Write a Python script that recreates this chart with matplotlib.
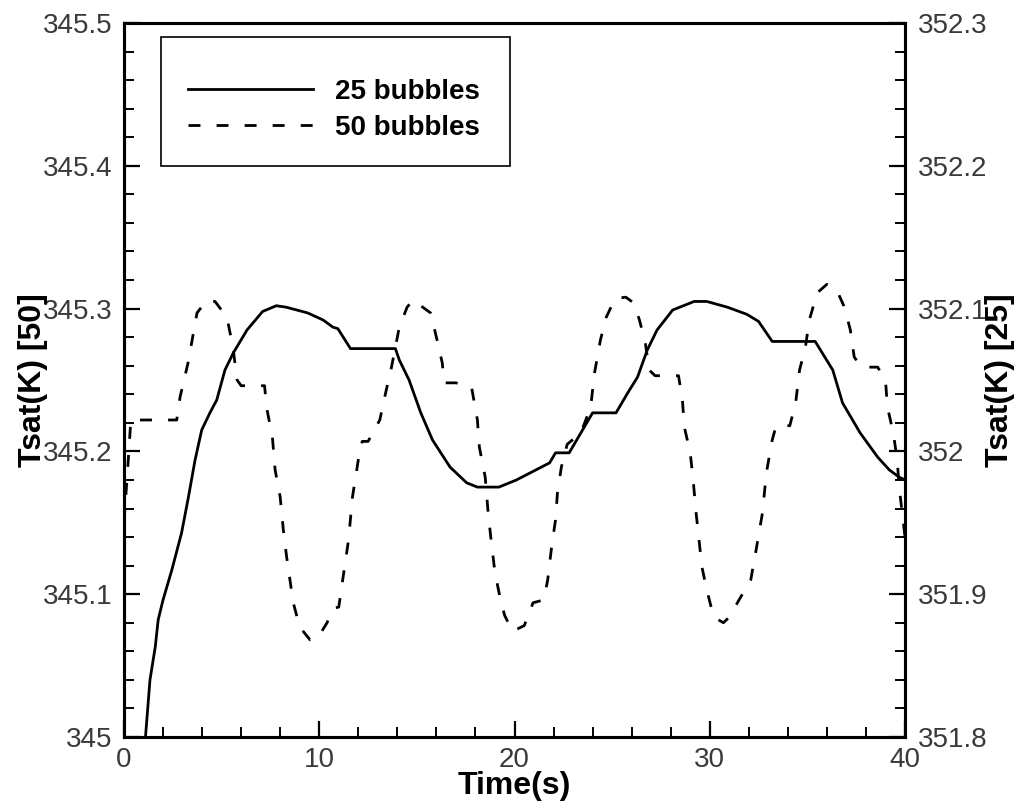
import matplotlib
matplotlib.use("Agg")
import matplotlib.pyplot as plt
from matplotlib.ticker import MultipleLocator, FuncFormatter
from matplotlib.lines import Line2D
from matplotlib.patches import Rectangle

# ---- data ----
t50 = [0, 0.2, 0.35, 2.7, 2.87, 3.28, 3.74, 4.25, 4.66, 5.27, 5.58, 5.79, 6.0, 7.2,
       7.3, 7.6, 7.74, 8.0, 8.16, 8.33, 8.5, 8.67, 9.0, 9.53, 9.9, 10.4, 10.7, 11.0,
       11.2, 11.5, 11.7, 12.0, 12.2, 12.5, 13.1, 13.4, 13.7, 14.1, 14.5, 14.8, 15.3,
       15.7, 16.0, 16.3, 16.4, 17.0, 17.8, 18.1, 18.2, 18.5, 18.65, 18.8, 19.0, 19.3,
       19.5, 19.9, 20.5, 20.95, 21.5, 21.7, 21.9, 22.1, 22.2, 22.4, 22.7, 23.4, 23.9,
       24.1, 24.4, 24.7, 25.15, 25.7, 26.1, 26.4, 26.7, 26.9, 27.2, 28.4, 28.6, 28.7,
       29.0, 29.15, 29.3, 29.45, 29.6, 29.85, 30.2, 30.7, 31.0, 31.5, 32.1, 32.4, 32.7,
       32.9, 33.2, 33.4, 34.1, 34.4, 34.6, 34.9, 35.1, 35.5, 36.0, 36.5, 36.9, 37.2,
       37.4, 37.8, 38.6, 39.0, 39.1, 39.4, 39.6, 39.7, 39.9, 40.0]
v50 = [345.15, 345.19, 345.222, 345.222, 345.238, 345.262, 345.297, 345.306, 345.305,
       345.294, 345.273, 345.25, 345.246, 345.246, 345.231, 345.21, 345.187, 345.168,
       345.145, 345.126, 345.11, 345.094, 345.077, 345.068, 345.069, 345.08, 345.09,
       345.091, 345.11, 345.138, 345.168, 345.194, 345.207, 345.207, 345.222, 345.241,
       345.259, 345.287, 345.301, 345.306, 345.301, 345.297, 345.28, 345.262, 345.248,
       345.248, 345.245, 345.222, 345.203, 345.182, 345.157, 345.138, 345.115, 345.095,
       345.085, 345.074, 345.078, 345.094, 345.096, 345.11, 345.133, 345.152, 345.171,
       345.189, 345.205, 345.213, 345.231, 345.255, 345.278, 345.294, 345.307, 345.308,
       345.304, 345.292, 345.276, 345.257, 345.253, 345.253, 345.236, 345.217, 345.199,
       345.18, 345.157, 345.138, 345.119, 345.103, 345.084, 345.08, 345.084, 345.096,
       345.11, 345.133, 345.157, 345.185, 345.208, 345.218, 345.218, 345.234, 345.257,
       345.273, 345.292, 345.311, 345.317, 345.313, 345.301, 345.285, 345.266, 345.259,
       345.259, 345.25, 345.231, 345.213, 345.194, 345.175, 345.152, 345.14]

t25 = [1.1, 1.33, 1.6, 1.75, 2.0, 2.45, 2.95, 3.3, 3.64, 3.98, 4.4, 4.75, 5.17, 5.6,
       6.3, 7.1, 7.8, 8.3, 9.4, 10.2, 10.7, 10.95, 11.6, 13.9, 14.1, 14.6, 15.2, 15.8,
       16.7, 17.55, 18.1, 19.2, 20.1, 20.95, 21.8, 22.1, 22.8, 23.4, 24.0, 25.2, 25.8,
       26.3, 26.8, 27.3, 28.1, 29.2, 29.85, 30.9, 31.9, 32.5, 33.2, 35.4, 36.3, 36.8,
       37.7, 38.6, 39.2, 39.7, 40.0]
v25 = [351.8, 351.84, 351.863, 351.882, 351.896, 351.917, 351.943, 351.968, 351.994,
       352.015, 352.027, 352.036, 352.057, 352.069, 352.085, 352.098, 352.102, 352.101,
       352.097, 352.092, 352.087, 352.086, 352.072, 352.072, 352.064, 352.05, 352.027,
       352.008, 351.989, 351.978, 351.975, 351.975, 351.98, 351.986, 351.992, 351.999,
       351.999, 352.013, 352.027, 352.027, 352.041, 352.052, 352.071, 352.085, 352.099,
       352.105, 352.105, 352.101, 352.096, 352.091, 352.077, 352.077, 352.057, 352.034,
       352.013, 351.996, 351.987, 351.982, 351.98]

labels = ["25 bubbles", "50 bubbles"]
xlabel = "Time(s)"
ylabel_left = "Tsat(K) [50]"
ylabel_right = "Tsat(K) [25]"

plt.rcParams['font.family'] = ['Liberation Sans', 'DejaVu Sans']

fig = plt.figure(figsize=(10.25, 8.08), dpi=100)
ax = fig.add_axes([124/1025, 1 - 737/808, 781/1025, 714/808])
ax2 = ax.twinx()

lw = 2.0
dash = (4.3, 5.8)
ax.plot(t50, v50, color='black', lw=lw, dashes=dash)
ax2.plot(t25, v25, color='black', lw=lw)

ax.set_xlim(0, 40)
ax.set_ylim(345, 345.5)
ax2.set_ylim(351.8, 352.3)

fmt = FuncFormatter(lambda v, p: f"{v:g}")
ax.xaxis.set_major_locator(MultipleLocator(10))
ax.xaxis.set_minor_locator(MultipleLocator(2))
ax.yaxis.set_major_locator(MultipleLocator(0.1))
ax.yaxis.set_minor_locator(MultipleLocator(0.02))
ax2.yaxis.set_major_locator(MultipleLocator(0.1))
ax2.yaxis.set_minor_locator(MultipleLocator(0.02))
ax.yaxis.set_major_formatter(fmt)
ax2.yaxis.set_major_formatter(fmt)

for a in (ax, ax2):
    for s in a.spines.values():
        s.set_linewidth(2.2)
    a.tick_params(which='major', direction='in', length=11.5, width=1.6,
                  labelsize=20, labelcolor='#3a3a3a')
    a.tick_params(which='minor', direction='in', length=7.2, width=1.4)
ax.tick_params(axis='x', which='both', top=False, pad=7)
ax.tick_params(axis='y', which='both', right=False, pad=8)
ax2.tick_params(axis='y', which='both', left=False, right=True, pad=9)

ax.set_xlabel(xlabel, fontsize=23, fontweight='bold')
ax.xaxis.set_label_coords(0.5, -0.047)
ax.set_ylabel(ylabel_left, fontsize=23, fontweight='bold')
ax.yaxis.set_label_coords((48 - 124) / 781, 0.5)
ax2.set_ylabel(ylabel_right, fontsize=23, fontweight='bold')
ax2.yaxis.set_label_coords((985 - 124) / 781, 0.5)

# legend frame box
box = Rectangle(((161 - 124) / 781, (737 - 166) / 714), (510 - 161) / 781,
                (166 - 37) / 714, transform=ax.transAxes, facecolor='white',
                edgecolor='black', lw=1.2, zorder=4)
ax2.add_patch(box)
handles = [Line2D([], [], color='black', lw=lw),
           Line2D([], [], color='black', lw=lw, dashes=dash)]
leg = ax2.legend(handles, labels, loc='center left',
                 bbox_to_anchor=((188 - 124) / 781, (737 - 110) / 714),
                 borderaxespad=0, borderpad=0, prop={'size': 20, 'weight': 'bold'},
                 handlelength=4.5, handletextpad=0.8, labelspacing=0.36,
                 frameon=False)
leg.set_zorder(5)

fig.savefig("out.png", dpi=100)
